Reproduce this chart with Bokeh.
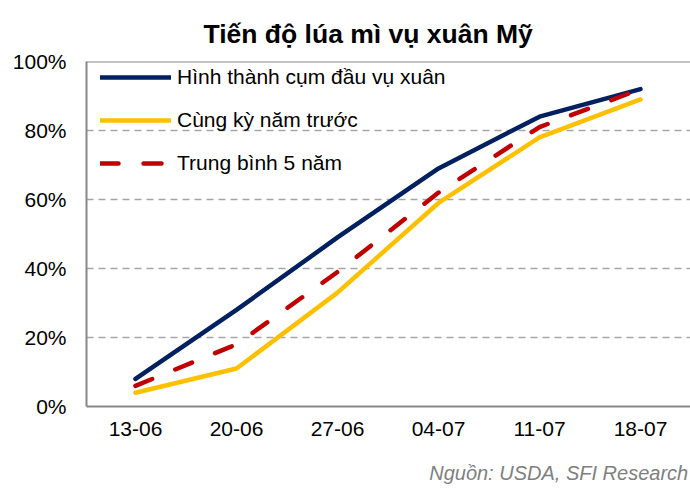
from bokeh.plotting import figure
from bokeh.models import (Range1d, FixedTicker, PrintfTickFormatter, Legend,
                          LegendItem, Span, LinearAxis)
from bokeh.embed import file_html
from bokeh.resources import INLINE

# ---- data ----
categories = ["13-06", "20-06", "27-06", "04-07", "11-07", "18-07"]
hinh_thanh = [8, 28, 49, 69, 84, 92]        # Hình thành cụm đầu vụ xuân
cung_ky = [4, 11, 33, 59, 78, 89]           # Cùng kỳ năm trước
trung_binh = [6, 18, 39, 62, 81, 92]        # Trung bình 5 năm
y_ticks = [0, 20, 40, 60, 80, 100]

title_text = "Tiến độ lúa mì vụ xuân Mỹ"
source_text = "Nguồn: USDA, SFI Research"
series_labels = ["Hình thành cụm đầu vụ xuân", "Cùng kỳ năm trước", "Trung bình 5 năm"]

FONT = "Liberation Sans"
x = list(range(len(categories)))

p = figure(width=690, height=489, output_backend="svg", toolbar_location=None,
           x_range=Range1d(-0.485, 5.495), y_range=Range1d(0, 100),
           min_border_left=86, min_border_right=0, min_border_top=61,
           min_border_bottom=83)
p.outline_line_color = None
p.background_fill_color = "white"
p.border_fill_color = "white"

p.title.text = title_text
p.title.align = "left"
p.title.vertical_align = "top"
p.title.offset = 117
p.title.standoff = 22
p.title.text_font = FONT
p.title.text_font_size = "26.5px"
p.title.text_font_style = "bold"
p.title.text_color = "#000000"

# axes
p.xaxis.ticker = FixedTicker(ticks=x)
p.xaxis.major_label_overrides = {i: c for i, c in zip(x, categories)}
p.yaxis.ticker = FixedTicker(ticks=y_ticks)
p.yaxis.formatter = PrintfTickFormatter(format="%d%%")
for ax in (p.xaxis[0], p.yaxis[0]):
    ax.major_tick_in = 0
    ax.major_tick_out = 0
    ax.minor_tick_in = 0
    ax.minor_tick_out = 0
    ax.axis_line_color = "#878787"
    ax.axis_line_width = 2
    ax.major_label_text_font = FONT
    ax.major_label_text_font_size = "21px"
    ax.major_label_text_color = "#000000"
p.xaxis.major_label_standoff = 15
p.yaxis.major_label_standoff = 20

# source note shown as a label-only axis under the category axis
src_pos = 4.19
src_axis = LinearAxis(ticker=FixedTicker(ticks=[src_pos]),
                      major_label_overrides={src_pos: source_text},
                      axis_line_color=None, major_tick_in=0, major_tick_out=0,
                      minor_tick_in=0, minor_tick_out=0,
                      major_label_standoff=23,
                      major_label_text_font=FONT,
                      major_label_text_font_size="20px",
                      major_label_text_font_style="italic",
                      major_label_text_color="#7F7F7F")
p.add_layout(src_axis, "below")

p.xgrid.visible = False
p.ygrid.grid_line_color = "#A6A6A6"
p.ygrid.grid_line_dash = "7 5"
p.ygrid.grid_line_width = 1.5

p.add_layout(Span(location=100, dimension="width", line_color="#878787", line_width=2))

r1 = p.line(x, hinh_thanh, line_color="#002060", line_width=4.5,
            line_cap="round", line_join="round")
r2 = p.line(x, cung_ky, line_color="#FFC000", line_width=4.5,
            line_cap="round", line_join="round")
r3 = p.line(x, trung_binh, line_color="#C00000", line_width=4.5,
            line_dash="18 25", line_cap="round", line_join="round")

legend = Legend(items=[LegendItem(label=series_labels[0], renderers=[r1]),
                       LegendItem(label=series_labels[1], renderers=[r2]),
                       LegendItem(label=series_labels[2], renderers=[r3])],
                location=(14, 231), orientation="vertical",
                glyph_width=71, glyph_height=24, label_height=24,
                label_standoff=6, spacing=19, padding=6, margin=0,
                border_line_color=None, background_fill_alpha=0,
                label_text_font=FONT, label_text_font_size="21px",
                label_text_color="#000000")
p.add_layout(legend)

open("out.html", "w").write(file_html(p, INLINE))
